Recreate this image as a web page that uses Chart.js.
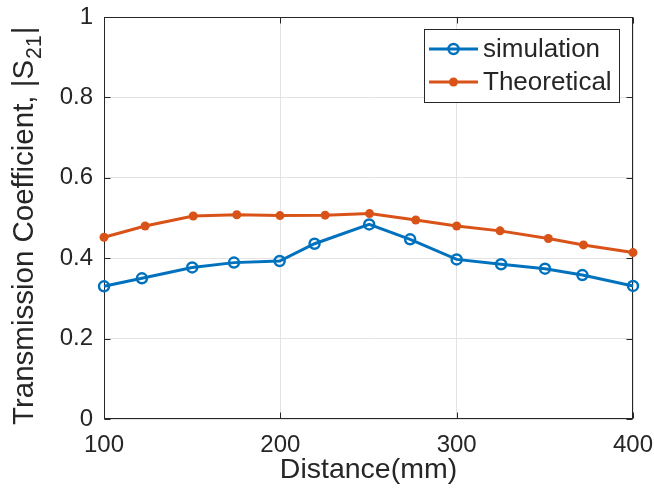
<!DOCTYPE html>
<html>
<head>
<meta charset="utf-8">
<script src="https://cdn.jsdelivr.net/npm/chart.js@4/dist/chart.umd.min.js"></script>
<style>
  html, body { margin: 0; padding: 0; background: #ffffff; }
  #wrap { width: 654px; height: 499px; }
</style>
</head>
<body>
<div id="wrap"><canvas id="c" width="654" height="499"></canvas></div>
<script>
// Measured |S21| versus antenna separation
const simDistance   = [100, 121.5, 150, 173.7, 199.6, 219.4, 250.4, 273.6, 300, 325.2, 350.1, 371.3, 400];
const simMagnitude  = [0.330, 0.350, 0.377, 0.389, 0.393, 0.436, 0.484, 0.447, 0.397, 0.385, 0.374, 0.358, 0.331];
const theoDistance  = [100, 123.3, 150.6, 175.3, 199.8, 225.4, 250.6, 276.8, 300, 324.6, 352, 371.9, 400];
const theoMagnitude = [0.452, 0.480, 0.505, 0.508, 0.506, 0.507, 0.511, 0.495, 0.480, 0.468, 0.449, 0.433, 0.414];

const xTicks = [100, 200, 300, 400];
const yTicks = [0, 0.2, 0.4, 0.6, 0.8, 1];
const seriesNames = ['simulation', 'Theoretical'];
const xTitle = 'Distance(mm)';
const yTitleMain = 'Transmission Coefficient, |S';
const yTitleSub = '21';
const yTitleEnd = '|';

const INK = '#262626';
const FONT = '"Liberation Sans", Arial, Helvetica, sans-serif';
const BLUE = '#0072BD';
const ORANGE = '#D95319';

Chart.defaults.font.family = FONT;
Chart.defaults.color = INK;

const toPoints = (xs, ys) => xs.map((x, i) => ({ x: x, y: ys[i] }));

// Let the layout padding alone decide the plot margins
const noOverflow = s => {
  s.paddingLeft = 0; s.paddingRight = 0; s.paddingTop = 0; s.paddingBottom = 0;
};

// Axes box with inward tick marks on all four sides
const framePlugin = {
  id: 'frame',
  beforeDatasetsDraw(chart) {
    const { ctx, chartArea: a, scales } = chart;
    const L = Math.round(a.left) + 0.5, R = Math.round(a.right) - 0.5;
    const T = Math.round(a.top) + 0.5, B = Math.round(a.bottom) - 0.5;
    ctx.save();
    ctx.strokeStyle = INK;
    ctx.lineWidth = 1;
    ctx.strokeRect(L, T, R - L, B - T);
    const len = 6;
    ctx.beginPath();
    xTicks.forEach(v => {
      const px = Math.round(scales.x.getPixelForValue(v)) + 0.5;
      ctx.moveTo(px, B); ctx.lineTo(px, B - len);
      ctx.moveTo(px, T); ctx.lineTo(px, T + len);
    });
    yTicks.forEach(v => {
      const py = Math.round(scales.y.getPixelForValue(v)) + 0.5;
      ctx.moveTo(L, py); ctx.lineTo(L + len, py);
      ctx.moveTo(R, py); ctx.lineTo(R - len, py);
    });
    ctx.stroke();
    ctx.restore();
  }
};

// Y-axis title with a subscripted S21
const yTitlePlugin = {
  id: 'yTitle',
  afterDraw(chart) {
    const { ctx } = chart;
    const size = 29.5;
    ctx.save();
    ctx.translate(33, 425);
    ctx.rotate(-Math.PI / 2);
    ctx.fillStyle = INK;
    ctx.textBaseline = 'alphabetic';
    ctx.textAlign = 'left';
    ctx.font = size + 'px ' + FONT;
    ctx.fillText(yTitleMain, 0, 0);
    let w = ctx.measureText(yTitleMain).width;
    ctx.font = (size * 0.72) + 'px ' + FONT;
    ctx.fillText(yTitleSub, w + 1, 8);
    w += ctx.measureText(yTitleSub).width + 2;
    ctx.font = size + 'px ' + FONT;
    ctx.fillText(yTitleEnd, w, 0);
    ctx.restore();
  }
};

// Boxed legend in the upper right of the plot area
const legendPlugin = {
  id: 'boxLegend',
  afterDraw(chart) {
    const { ctx } = chart;
    const x0 = 424.5, y0 = 29.5, w = 195, h = 73;
    ctx.save();
    ctx.fillStyle = '#ffffff';
    ctx.fillRect(x0, y0, w, h);
    ctx.strokeStyle = INK;
    ctx.lineWidth = 1;
    ctx.strokeRect(x0, y0, w, h);
    const rows = [49, 82];
    chart.data.datasets.forEach((ds, i) => {
      const y = rows[i];
      ctx.strokeStyle = ds.borderColor;
      ctx.lineWidth = ds.borderWidth;
      ctx.beginPath();
      ctx.moveTo(429, y); ctx.lineTo(478, y);
      ctx.stroke();
      ctx.beginPath();
      ctx.arc(453.5, y, ds.pointRadius, 0, Math.PI * 2);
      if (i === 0) {
        ctx.lineWidth = ds.pointBorderWidth;
        ctx.stroke();
      } else {
        ctx.fillStyle = ds.pointBackgroundColor;
        ctx.fill();
      }
      ctx.fillStyle = INK;
      ctx.font = '26px ' + FONT;
      ctx.textBaseline = 'middle';
      ctx.textAlign = 'left';
      ctx.fillText(ds.label, 483, y + 1);
    });
    ctx.restore();
  }
};

new Chart(document.getElementById('c'), {
  type: 'line',
  data: {
    datasets: [
      {
        label: seriesNames[0],
        data: toPoints(simDistance, simMagnitude),
        borderColor: BLUE,
        borderWidth: 3,
        pointRadius: 5,
        pointBorderWidth: 2.5,
        pointBorderColor: BLUE,
        pointBackgroundColor: 'rgba(255,255,255,0)',
        tension: 0,
        clip: false
      },
      {
        label: seriesNames[1],
        data: toPoints(theoDistance, theoMagnitude),
        borderColor: ORANGE,
        borderWidth: 3,
        pointRadius: 4.5,
        pointBorderWidth: 0,
        pointBorderColor: ORANGE,
        pointBackgroundColor: ORANGE,
        tension: 0,
        clip: false
      }
    ]
  },
  options: {
    responsive: false,
    animation: false,
    devicePixelRatio: 1,
    layout: { padding: { top: 17, right: 21, left: 0, bottom: 0 } },
    plugins: {
      legend: { display: false },
      tooltip: { enabled: false }
    },
    scales: {
      x: {
        type: 'linear',
        min: 100,
        max: 400,
        afterBuildTicks: s => { s.ticks = xTicks.map(v => ({ value: v })); },
        afterFit: s => { s.height = 80; noOverflow(s); },
        ticks: {
          font: { size: 24 },
          color: INK,
          padding: 12,
          maxRotation: 0,
          autoSkip: false,
          callback: v => String(v)
        },
        grid: { color: '#e3e3e3', lineWidth: 1, drawTicks: false },
        border: { display: false },
        title: {
          display: true,
          text: xTitle,
          color: INK,
          font: { size: 28.5 },
          padding: { top: 0, bottom: 12 }
        }
      },
      y: {
        type: 'linear',
        min: 0,
        max: 1,
        afterBuildTicks: s => { s.ticks = yTicks.map(v => ({ value: v })); },
        afterFit: s => { s.width = 104; noOverflow(s); },
        ticks: {
          font: { size: 24 },
          color: INK,
          padding: 11,
          callback: v => String(Math.round(v * 10) / 10)
        },
        grid: { color: '#e3e3e3', lineWidth: 1, drawTicks: false },
        border: { display: false }
      }
    }
  },
  plugins: [framePlugin, yTitlePlugin, legendPlugin]
});
</script>
</body>
</html>
